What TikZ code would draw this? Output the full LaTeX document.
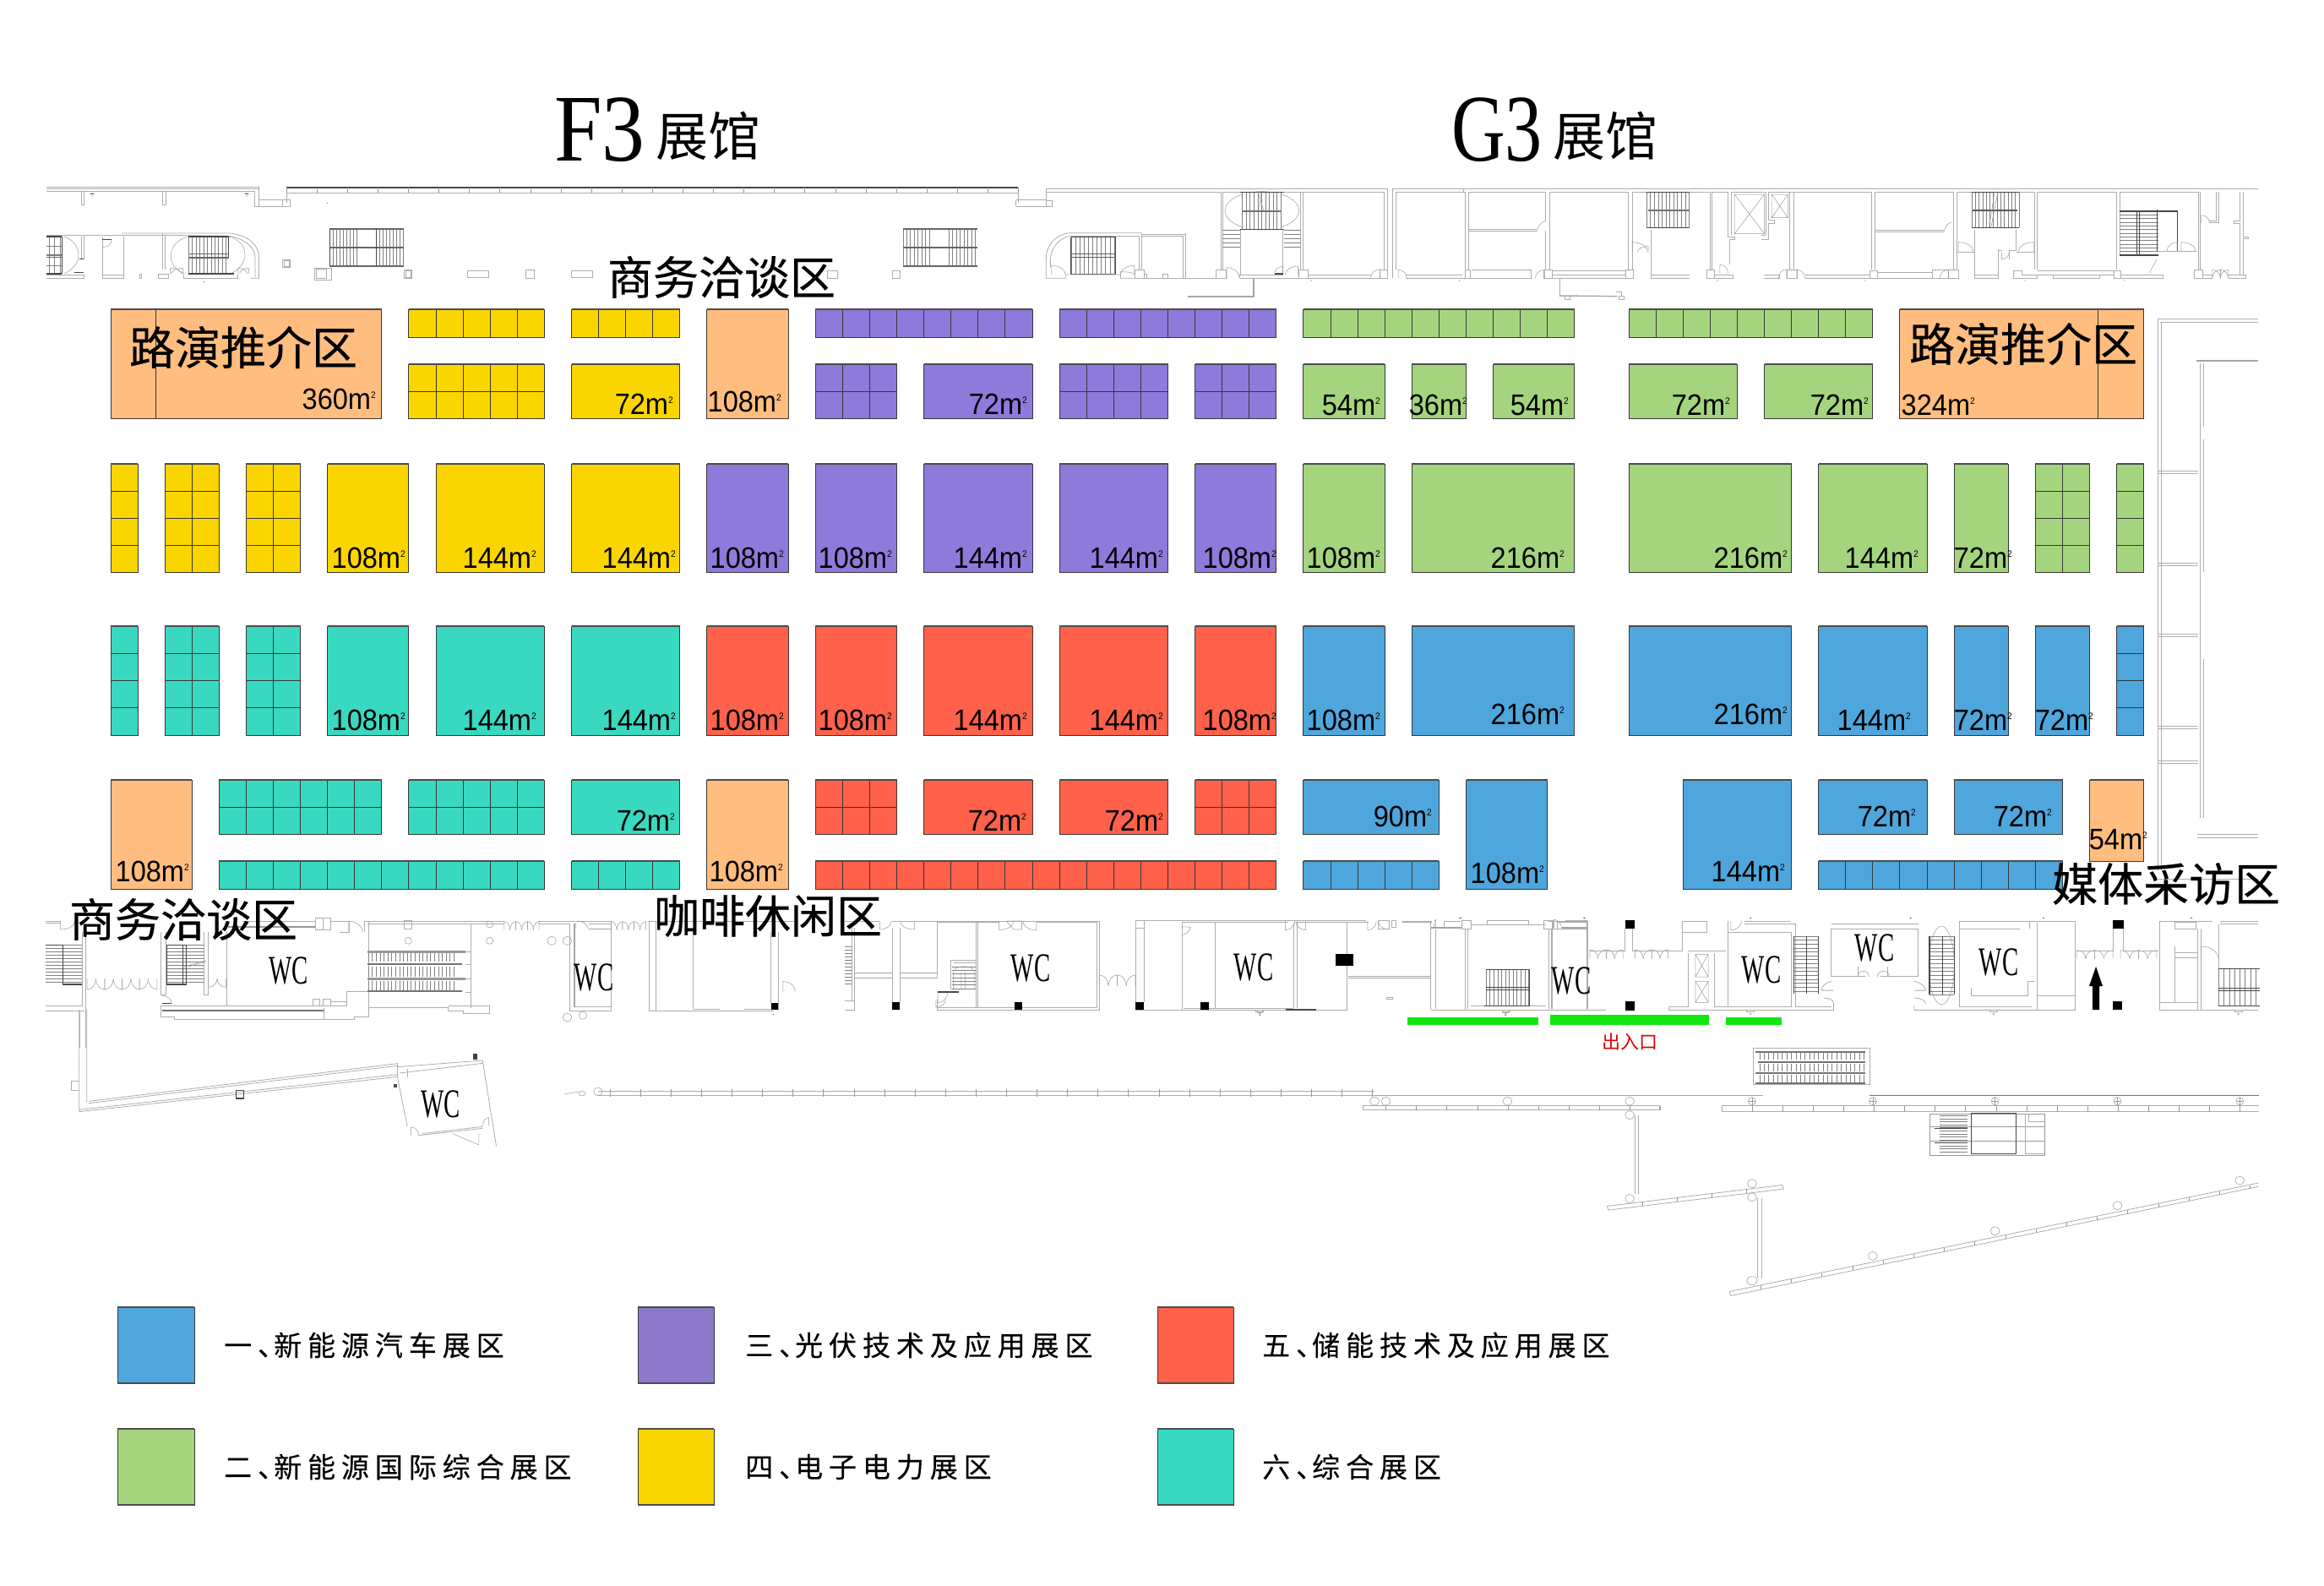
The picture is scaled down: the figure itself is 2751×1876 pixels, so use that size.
\documentclass[tikz,border=0pt]{standalone}
\usepackage{fontspec}
\setmainfont{Liberation Sans}
\newfontfamily\cjk{Noto Sans CJK SC}
\newfontfamily\zonef[FakeBold=0.35]{Noto Sans CJK SC}
\newfontfamily\legf[LetterSpace=21,FakeBold=0.25]{Noto Sans CJK SC}
\newfontfamily\labf[FakeStretch=0.93]{Liberation Sans}
\newfontfamily\wcf[FakeStretch=0.6]{Liberation Serif}
\newfontfamily\ttlf[FakeStretch=0.9]{Liberation Serif}
\newfontfamily\ttlg[FakeStretch=0.78]{Liberation Serif}
\definecolor{cblue}{HTML}{4EA6DC}
\definecolor{cpur}{HTML}{8E7ADB}
\definecolor{cpurl}{HTML}{8D79C9}
\definecolor{cora}{HTML}{FFBD7F}
\definecolor{cyel}{HTML}{FAD500}
\definecolor{cgrn}{HTML}{A4D57E}
\definecolor{ctea}{HTML}{38D9C0}
\definecolor{cred}{HTML}{FF614B}
\definecolor{cbar}{HTML}{10E810}
\tikzset{
 wall/.style={draw=black!32,line width=.8pt},
 thin wall/.style={draw=black!40,line width=.5pt},
 band/.style={draw=black!35,line width=2.2pt},
 dk/.style={draw=black!72,line width=1.1pt},
 hat/.style={draw=black!50,line width=.5pt},
 solid box/.style={fill=black,draw=none},
 boothline/.style={draw=black!78,line width=1pt},
 swatch/.style={draw=black!78,line width=1pt},
}
\newcounter{lb}
% booth: colour k0 k1 y0 y1 cols rows
\newcommand{\booth}[7]{%
 \fill[#1] (#2,#4) rectangle (#3,#5);
 \ifnum#6>1 \pgfmathtruncatemacro\nc{#6-1}\foreach \i in {1,...,\nc}{\draw[boothline] ({#2+(#3-#2)*\i/#6},#4)--({#2+(#3-#2)*\i/#6},#5);}\fi
 \ifnum#7>1 \pgfmathtruncatemacro\nr{#7-1}\foreach \i in {1,...,\nr}{\draw[boothline] (#2,{#4+(#5-#4)*\i/#7})--(#3,{#4+(#5-#4)*\i/#7});}\fi
 \draw[boothline] (#2,#4) rectangle (#3,#5);
 \draw[draw=black!70,line width=1.3pt] (#2,#4)--(#3,#4);
}
\newcommand{\lab}[3]{\stepcounter{lb}\node[anchor=base east,inner sep=0pt,text=black] (area\arabic{lb}) at (#1,#2) {\fontsize{35}{35}\labf #3m\raisebox{13pt}{\fontsize{11}{11}\selectfont 2}};}
\newcommand{\zonetxt}[3]{\stepcounter{lb}\node[inner sep=0pt,text=black] (zone\arabic{lb}) at (#1,#2) {\fontsize{54}{54}\zonef #3};}
\newcommand{\wc}[2]{\stepcounter{lb}\node[inner sep=0pt,text=black] (wc\arabic{lb}) at (#1,#2) {\fontsize{48}{48}\wcf WC};}
\newcommand{\vhatch}[5]{\pgfmathtruncatemacro\nn{(#2-#1)/#5}\foreach \i in {0,...,\nn}{\draw[hat] ({#1+\i*#5},#3)--({#1+\i*#5},#4);}}
\newcommand{\hhatch}[5]{\pgfmathtruncatemacro\nn{(#4-#3)/#5}\foreach \i in {0,...,\nn}{\draw[hat] (#1,{#3+\i*#5})--(#2,{#3+\i*#5});}}
% door leaf: hinge (x,y), width w (signed), height h (signed, up if positive)
\newcommand{\leaf}[4]{\draw[thin wall] ({#1},#2)--({#1},{#2-(#4)}) .. controls ({#1+.6*(#3)},{#2-(#4)}) and ({#1+(#3)},{#2-.5*(#4)}) .. ({#1+(#3)},#2);}
\newcommand{\scalrow}[5]{\foreach \i in {1,...,#5}{\leaf{#1+(\i-1)*2*#3}{#2}{#3}{#4}\leaf{#1+\i*2*#3}{#2}{-#3}{#4}}}
\newcommand{\ovl}[4]{\draw[thin wall] (#1,#2) ellipse [x radius=#3,y radius=#4];}
\newcommand{\pin}[2]{\fill[black!70] (#1,#2) circle [radius=1.5pt];}
\newcommand{\dun}{、\hspace{-14pt}}
\begin{document}
\begin{tikzpicture}[x=1pt,y=-1pt]
\useasboundingbox (0,0) rectangle (2751,1876);
\fill[white] (0,0) rectangle (2751,1876);

%%%%% PLAN: upper-left (zoom coordinates)
\begin{scope}[shift={(40,200)},xscale=.4464,yscale=.3333]
 \draw[wall] (34,65)--(597,65)--(597,133)--(680,133)--(680,110)--(597,110);
 \draw[wall] (34,70)--(597,70);
 \draw[wall] (34,80)--(585,80)--(585,133)--(597,133);
 \draw[wall] (127,80)--(127,128)--(133,128)--(133,80) (342,80)--(342,128)--(350,128)--(350,80) (660,110)--(660,133);
 \pin{155}{96}\pin{565}{96}\pin{778}{121}\pin{451}{400}
 \fill[black!60] (150,86) rectangle (160,90) (560,86) rectangle (570,90);
 % stair block
 \vhatch{785}{860}{212}{346}{9}\vhatch{908}{982}{212}{346}{9}
 \draw[band,draw=black!60] (785,212)--(982,212) (785,279)--(982,279) (785,346)--(982,346);
 \draw[dk] (785,212)--(785,346) (908,212)--(908,346);
 % small pillars
 \draw[wall] (660,322) rectangle (680,349) (665,325) rectangle (678,346);
 \draw[wall] (745,352) rectangle (790,395) (750,355) rectangle (775,388);
 \draw[wall] (982,358) rectangle (1003,388) (987,362) rectangle (1000,384);
 \draw[wall] (1150,361) rectangle (1206,386) (1305,358) rectangle (1327,388) (1426,361) rectangle (1482,386);
 % left stair
 \vhatch{40}{75}{240}{372}{15}\hhatch{34}{75}{240}{372}{34}
 \draw[dk] (34,240)--(75,240) (34,372)--(75,372) (75,240)--(75,372);
 \draw[band,draw=black!55,line width=1.6pt] (34,304)--(75,304) (34,314)--(75,314);
 \draw[thin wall] (80,240) .. controls (128,262) and (135,340) .. (80,372);
 \draw[wall] (34,235)--(342,235) (127,240)--(127,320) (133,235)--(133,322);
 \draw[dk] (122,320)--(133,320) (108,367)--(133,367);
 \draw[wall] (34,375)--(133,375)--(133,388)--(34,388);
 \draw[wall] (182,240)--(182,388)--(238,388)--(238,240) (182,375)--(238,375);
 \draw[dk] (182,250)--(207,250);
 \draw[thin wall] (207,250) .. controls (207,265) and (197,278) .. (182,278);
 \draw[wall] (282,372) rectangle (286,388);
 \draw[wall] (233,228)--(520,228) .. controls (570,236) and (597,270) .. (597,312)--(597,388)--(575,388);
 \draw[wall] (342,235)--(520,238) .. controls (562,250) and (587,280) .. (587,315)--(587,385);
 \draw[wall] (342,228)--(342,358) (348,238)--(348,358);
 \draw[wall] (330,372) rectangle (358,388);
 \draw[thin wall] (410,240) .. controls (350,260) and (350,350) .. (400,372);
 \draw[thin wall] (517,240) .. controls (575,262) and (572,340) .. (522,372);
 \vhatch{410}{517}{240}{372}{10}
 \draw[dk] (410,240)--(517,240)--(517,315) (410,372)--(530,372);
 \draw[band,draw=black!60,line width=1.6pt] (412,302)--(517,302) (412,315)--(517,315);
 \draw[wall] (397,375)--(397,388)--(540,388)--(540,375);
 \leaf{362}{372}{30}{20}\leaf{395}{372}{-30}{20}\leaf{542}{372}{24}{20}\leaf{570}{372}{-24}{20}
\end{scope}
%%%%% curtain wall
\draw[dk] (339,222)--(1205,222);
\draw[wall] (339,228)--(1205,228);
\draw[wall] (339,222)--(339,240) (1205,222)--(1205,240);
\foreach \i in {0,...,24}{\draw[thin wall] ({339+\i*36.1},222)--({339+\i*36.1},228);}
% second stair block + pillars (zoom 1 coords)
\begin{scope}[shift={(0,80)},xscale=.8929,yscale=.3333]
 \vhatch{1197}{1235}{572}{708}{5}\vhatch{1258}{1296}{572}{708}{5}
 \draw[band,draw=black!60] (1197,574)--(1296,574) (1197,640)--(1296,640) (1197,706)--(1296,706);
 \draw[wall] (1183,720) rectangle (1193,747) (1097,720) rectangle (1110,747);
\end{scope}
%%%%% PLAN: upper-middle
\begin{scope}[shift={(1200,210)},xscale=.5102,yscale=.3333]
 \draw[wall] (5,80)--(75,80) (5,102)--(75,102) (5,80)--(5,102);
 \draw[wall] (75,82) rectangle (88,102);
 \draw[wall] (75,80)--(75,40)--(868,40)--(868,358)--(850,358)--(850,328)--(868,328);
 \draw[wall] (75,52)--(480,52)--(480,328) (484,52)--(484,328) (484,52)--(860,52)--(860,328);
 \draw[wall] (665,52)--(665,328) (672,52)--(672,328);
 \draw[wall] (878,40)--(1568,40) (878,40)--(878,358) (886,52)--(1048,52)--(1048,328) (886,52)--(886,328) (1043,40)--(1043,52);
 \draw[wall] (1055,52)--(1234,52)--(1234,155) (1055,52)--(1055,328) (1234,190)--(1234,328) (1244,52)--(1244,328) (1244,52)--(1425,52)--(1425,328) (1435,52)--(1435,328) (1435,52)--(1568,52);
 \draw[wall] (1055,185)--(1215,185) (1055,190)--(1215,190);
 \draw[thin wall] (1215,185) .. controls (1218,170) and (1225,157) .. (1234,155);
 % central stair
 \draw[thin wall] (576,118) ellipse [x radius=86,y radius=68];
 \fill[white] (530,52) rectangle (622,185);
 \vhatch{530}{625}{52}{185}{9}
 \draw[dk] (525,52)--(628,52) (525,185)--(628,185);
 \draw[band,draw=black!55] (530,119)--(620,119);
 \draw[thin wall] (566,48)--(580,118) (574,52)--(570,110);
 \hhatch{484}{527}{188}{262}{15}\hhatch{628}{667}{188}{262}{15}
 \draw[wall] (527,190)--(527,345)--(625,345)--(625,190) (525,358)--(628,358) (525,345)--(525,358);
 % left stair
 \vhatch{133}{236}{212}{343}{10}
 \draw[dk] (133,212)--(236,212)--(236,343)--(133,343)--(133,212);
 \draw[band,draw=black!60,line width=1.6pt] (133,272)--(236,272) (133,284)--(236,284);
 \draw[wall] (297,197)--(130,197) .. controls (95,205) and (75,240) .. (75,290)--(75,358)--(120,358)--(120,345)--(248,345)--(248,358)--(282,358);
 \draw[wall] (130,208) .. controls (105,215) and (87,250) .. (85,290)--(85,320);
 \draw[wall] (297,197)--(297,328) (290,208)--(290,328) (130,208)--(290,208);
 \draw[wall] (297,202)--(398,202)--(398,358) (297,208)--(392,208)--(392,358);
 \draw[wall] (282,328) rectangle (303,358) (303,343) rectangle (308,358) (345,343) rectangle (357,358);
 \draw[wall] (308,358)--(470,358) (470,328) rectangle (492,358);
 \leaf{88}{345}{32}{32}\leaf{280}{345}{-32}{32}\leaf{248}{345}{32}{10}
 \leaf{494}{358}{30}{38}\leaf{660}{345}{-30}{30}\leaf{625}{340}{-20}{24}
 \draw[dk] (605,342)--(625,342);
 \draw[wall] (625,358)--(662,358) (662,328) rectangle (683,358);
 \draw[wall] (683,345)--(830,345) (683,358)--(850,358);
 \leaf{850}{358}{-22}{32}\leaf{892}{358}{20}{30}
 \draw[wall] (910,345)--(1040,345) (910,358)--(1048,358) (1048,328)--(1060,328)--(1060,358)--(1048,358)--(1048,328);
 \draw[wall] (1062,328)--(1200,328)--(1200,358)--(1060,358);
 \leaf{1232}{358}{-22}{30}
 \draw[wall] (1230,328) rectangle (1250,358) (1250,332)--(1420,332) (1250,345)--(1420,345) (1250,358)--(1438,358)--(1438,328)--(1420,328)--(1420,358);
 \pin{690}{366}\pin{1034}{366}
 % tails
 \draw[band,line width=1.4pt] (557,358)--(557,423)--(403,423);
 \draw[wall] (1266,358)--(1266,420)--(1282,420);
 \draw[band,line width=1.4pt] (1266,420)--(1400,422);
 \draw[wall] (1397,405)--(1410,405)--(1410,424) (1278,422) rectangle (1290,433) (1404,422) rectangle (1416,433);
 % next stair
 \vhatch{1468}{1568}{52}{178}{9}
 \draw[dk] (1468,52)--(1568,52) (1468,178)--(1568,178);
 \draw[band,draw=black!55] (1472,116)--(1568,116);
 \draw[wall] (1478,185)--(1478,345)--(1568,345) (1478,345)--(1478,358)--(1568,358);
 \leaf{1435}{265}{36}{35}\leaf{1472}{265}{-25}{20}
\end{scope}
%%%%% PLAN: upper-right
\begin{scope}[shift={(2000,210)},xscale=.4789,yscale=.3333]
 \draw[wall] (0,40)--(1405,40);
 \draw[wall] (0,52)--(50,52)--(50,328) (55,52)--(55,328) (55,52)--(95,52)--(95,210)--(112,210)--(112,220)--(99,220)--(99,310) (103,52)--(103,205);
 \draw[wall] (103,52)--(188,52)--(188,205) (195,52)--(195,150)--(210,150)--(210,162)--(195,162)--(195,220)--(178,220) (188,205)--(178,205);
 \draw[thin wall] (111,60) rectangle (185,200) (111,60)--(185,200) (185,60)--(111,200);
 \draw[thin wall] (203,60) rectangle (243,143) (203,60)--(243,143) (243,60)--(203,143);
 \draw[wall] (195,52)--(450,52)--(450,328) (248,52)--(248,328) (258,52)--(258,328) (458,52)--(458,328);
 \draw[wall] (458,52)--(653,52)--(653,328) (660,52)--(660,328) (660,52)--(853,52)--(853,328) (860,52)--(860,328);
 \draw[wall] (458,187)--(630,187) (458,192)--(630,192);
 \draw[thin wall] (630,187) .. controls (632,172) and (640,160) .. (648,160);
 \vhatch{697}{815}{52}{178}{9}
 \draw[dk] (697,52)--(815,52) (697,178)--(815,178);
 \draw[band,draw=black!65] (700,116)--(810,116);
 \draw[thin wall] (762,52)--(745,178) (754,52)--(740,178);
 \draw[wall] (705,185)--(705,358)--(762,358)--(762,260)--(772,260) (705,345)--(762,345);
 \draw[wall] (807,185)--(807,260)--(790,260)--(790,290);
 \draw[wall] (660,265)--(705,265) (807,265)--(853,265);
 \leaf{664}{265}{38}{35}\leaf{850}{265}{-38}{35}\leaf{772}{265}{18}{-25}
 \draw[wall] (860,52)--(1055,52)--(1055,328) (1063,52)--(1063,280) (1063,52)--(1258,52)--(1258,328) (1263,52)--(1263,328);
 \hhatch{1063}{1158}{120}{278}{13}
 \draw[dk] (1063,120)--(1205,120)--(1205,262) (1105,120)--(1105,275) (1112,120)--(1112,275) (1063,276)--(1158,276) (1155,115)--(1155,262);
 \draw[wall] (1158,262)--(1252,262);
 \leaf{1205}{262}{-25}{32}\leaf{1215}{262}{36}{32}
 \draw[thin wall] (1155,290) .. controls (1150,310) and (1140,320) .. (1138,340);
 \draw[wall] (42,328) rectangle (62,358) (62,345)--(107,345)--(107,358)--(62,358);
 \draw[wall] (183,345)--(222,345)--(222,358)--(183,358);
 \draw[wall] (240,328) rectangle (265,358) (285,345)--(445,345) (285,358)--(445,358);
 \leaf{240}{358}{-20}{32}\leaf{265}{358}{20}{30}\leaf{75}{340}{20}{30}
 \draw[wall] (445,330) rectangle (465,358) (465,338)--(600,338) (465,358)--(600,358) (600,328) rectangle (665,358) (640,328)--(640,358);
 \leaf{640}{358}{-22}{30}
 \draw[wall] (800,330)--(822,330)--(822,345)--(860,345) (800,330)--(800,358)--(860,358)--(860,345);
 \draw[wall] (860,332)--(1048,332) (860,345)--(1048,345) (898,345)--(898,358)--(1013,358)--(1013,345);
 \draw[wall] (1048,330) rectangle (1065,358) (1065,345)--(1170,345)--(1170,358)--(1065,358);
 \draw[wall] (1248,328) rectangle (1268,358) (1268,345)--(1292,345) (1268,358)--(1292,358);
 \draw[wall] (1332,345)--(1375,345)--(1375,358)--(1332,358);
 \leaf{1292}{358}{20}{30}\leaf{1332}{358}{-20}{30}\leaf{1312}{358}{-20}{30}\leaf{1312}{358}{20}{30}
 \draw[wall] (1302,52)--(1302,155)--(1285,155) (1308,52)--(1308,160)--(1285,160);
 \leaf{1265}{162}{20}{28}
 \draw[wall] (1360,52)--(1360,155)--(1345,155)--(1345,162)--(1360,162)--(1360,345) (1368,52)--(1368,210)--(1380,210)--(1380,218)--(1368,218)--(1368,345);
 \pin{69}{366}\pin{434}{366}\pin{829}{366}\pin{1075}{366}
\end{scope}
%%%%% right wing
\draw[wall] (2554,377)--(2673,377) (2557,381)--(2673,381) (2554,377)--(2554,1030) (2558,381)--(2558,1030);
\draw[wall] (2604,430)--(2604,968) (2608,430)--(2608,505) (2608,520)--(2608,677) (2608,780)--(2608,968);
\draw[band,line width=1.6pt] (2600,427)--(2673,427);
\foreach \yy in {557,666,750,859,900}{\draw[wall] (2555,\yy)--(2602,\yy) (2555,{\yy+3})--(2602,{\yy+3});}
\draw[wall] (2601,987)--(2673,987) (2601,991)--(2673,991) (2555,1040)--(2673,1040);

%%%%% PLAN: lower-left (zoom 11)
\begin{scope}[shift={(40,1070)},xscale=.5741,yscale=.3333]
 \draw[wall] (25,60)--(55,60) (430,60)--(580,60) (612,60)--(650,60)--(650,100)--(630,100) (25,66)--(55,66);
 \draw[band,draw=black!40] (400,82)--(580,82);
 \draw[wall] (580,50) rectangle (612,92) (596,50)--(596,92);
 \leaf{55}{60}{30}{-30}
 \hhatch{25}{100}{145}{285}{12}
 \draw[dk] (25,145)--(60,145)--(60,285)--(100,285);
 \draw[wall] (100,100)--(100,362) (107,100)--(107,510) (95,378)--(95,510) (25,362)--(100,362) (25,378)--(105,378);
 \scalrow{110}{265}{18}{-38}{4}
 \hhatch{275}{350}{145}{285}{12}
 \draw[dk] (275,145)--(315,145)--(315,285) (275,145)--(275,285)--(315,285) (308,145)--(308,285);
 \draw[wall] (262,100)--(262,322)--(272,322)--(272,100) (350,100)--(350,322)--(360,322)--(360,100) (397,95)--(397,362);
 \draw[thin wall] (310,222)--(355,200) (310,226)--(355,204);
 \scalrow{360}{265}{18}{-30}{1}
 \draw[dk] (264,352)--(284,352);
 \draw[thin wall] (265,325) .. controls (278,328) and (285,340) .. (284,352);
 \draw[wall] (262,362)--(645,362) (262,362)--(262,400)--(290,400)--(290,408)--(660,408)--(660,400)--(690,400)--(690,60);
 \draw[band,draw=black!55] (264,378)--(598,378);
 \draw[wall] (598,368)--(598,408);
 \draw[wall] (575,338) rectangle (590,362) (596,338) rectangle (612,362) (612,345)--(645,345) (645,310)--(690,310) (645,310)--(645,362);
 \draw[wall] (682,60)--(682,100) (682,60)--(970,60) (1040,60)--(1115,60) (688,70)--(970,70) (1040,70)--(1105,70);
 \leaf{648}{100}{30}{40}
 \draw[wall] (763,58) rectangle (780,88);
 \ovl{772}{130}{7}{12}\ovl{940}{130}{7}{12}\ovl{940}{72}{7}{12}\ovl{1068}{130}{9}{15}\ovl{1100}{130}{9}{15}\ovl{1100}{402}{9}{15}\ovl{1132}{395}{8}{14}
 \scalrow{970}{92}{12}{30}{3}
 \foreach \yy in {168,265}{\draw[band,draw=black!40,line width=3pt] (688,\yy)--(890,\yy);}
 \foreach \yy in {213,310}{\draw[band,draw=black!55,line width=1.8pt] (688,\yy)--(883,\yy);}
 \vhatch{690}{870}{175}{205}{8}\vhatch{690}{870}{222}{258}{8}\vhatch{690}{870}{272}{305}{8}
 \draw[wall] (890,168)--(902,168) (890,215)--(902,215) (890,265)--(902,265) (890,312)--(902,312);
 \draw[wall] (902,70)--(902,368) (690,368)--(855,368) (855,362)--(940,362)--(940,388)--(885,388)--(885,378)--(855,378)--(855,362);
 \draw[wall] (1105,70)--(1105,378)--(1190,378)--(1190,60) (1120,60)--(1190,60) (1145,70)--(1190,70) (1115,365)--(1190,365);
 \draw[band,line width=1.4pt] (1115,70)--(1115,365);
 \draw[band,line width=1.4pt] (1145,88)--(1190,88);
 \leaf{1118}{88}{25}{28}
 \scalrow{1190}{92}{12}{30}{3}
 \draw[wall] (1268,60)--(1268,378)--(1525,378) (1282,60)--(1282,378) (1360,100)--(1360,372) (1360,372)--(1415,372) (1465,372)--(1520,372) (1268,60)--(1568,60);
 \draw[wall] (1520,100)--(1520,350) (1535,100)--(1535,378);
 \fill[black] (1520,350) rectangle (1535,375);
 \pin{1525}{392}
 \leaf{1545}{310}{25}{35}
\end{scope}
%%%%% PLAN: lower-middle (zoom 12)
\begin{scope}[shift={(1000,1070)},xscale=.5741,yscale=.3333]
 \hhatch{0}{14}{150}{282}{12}
 \draw[wall] (0,375)--(20,375)--(20,85) (0,342)--(20,342) (14,85)--(14,342);
 \draw[band,line width=1.4pt] (20,245)--(98,245) (20,262)--(98,262) (114,245)--(190,245) (114,262)--(190,262);
 \draw[wall] (98,85)--(98,348) (114,85)--(114,348) (98,60)--(114,60);
 \fill[black] (98,348) rectangle (114,375);
 \leaf{72}{60}{24}{-30}\leaf{144}{60}{-30}{-30}
 \draw[wall] (0,60)--(72,60) (114,60)--(525,60) (190,65)--(318,65) (190,65)--(190,265) (190,340)--(190,375)--(525,375)--(525,60);
 \draw[wall] (270,65)--(270,368) (275,65)--(275,368) (190,368)--(520,368)--(520,65)--(395,65) ;
 \fill[black] (350,348) rectangle (365,375);
 \leaf{318}{60}{30}{-32}\leaf{395}{60}{-28}{-32}
 \draw[wall] (333,60)--(365,60)--(365,90)--(348,90)--(333,60);
 \draw[wall] (218,200)--(270,200) (218,200)--(218,300)--(270,300) (224,207)--(270,207);
 \hhatch{222}{270}{222}{300}{13}
 \draw[thin wall] (224,300)--(224,240) .. controls (228,215) and (262,215) .. (268,240)--(268,300) (240,240)--(240,300) (248,240)--(248,300);
 \leaf{192}{312}{20}{-38}\leaf{188}{340}{20}{-25}
 \draw[dk] (192,312)--(235,312);
 \scalrow{525}{290}{18.5}{38}{2}
 \draw[wall] (600,58)--(600,375)--(1035,375)--(1035,65) (617,58)--(617,348) (600,58)--(618,58) (600,85)--(617,85);
 \fill[black] (600,348) rectangle (617,375);
 \draw[wall] (617,58)--(1075,58) (695,65)--(695,112) (695,65)--(915,65) (695,112)--(695,375) (763,65)--(763,370) (700,370)--(925,370);
 \draw[thin wall] (695,80)--(713,82) .. controls (712,95) and (703,108) .. (695,110);
 \fill[black] (733,348) rectangle (750,375);
 \draw[wall] (925,65)--(925,370) (932,65)--(932,370) (932,65)--(1080,65) ;
 \leaf{908}{60}{20}{-32}\leaf{950}{60}{-20}{-32}
 \fill[black] (1012,178) rectangle (1048,220);
 \draw[band,line width=1pt] (1038,255)--(1208,255) (1038,262)--(1208,262);
 \draw[dk] (910,375)--(972,375);
 \pin{856}{394}
 \draw[wall] (850,376) rectangle (862,384) (1118,330) rectangle (1130,336);
 \leaf{1078}{60}{18}{-32}\leaf{1122}{60}{-22}{-30}
 \draw[wall] (1100,58)--(1122,58)--(1122,88)--(1100,88)--(1100,58) (1127,58) rectangle (1137,82);
 \draw[wall] (1150,60)--(1210,60) (1150,65)--(1210,65) (1208,60)--(1208,375) (1218,90)--(1218,372) (1208,375)--(1285,375) (1280,90)--(1280,375) (1285,90)--(1285,372) (1285,375)--(1570,375) (1452,90)--(1452,372) (1457,90)--(1457,372) (1290,362)--(1445,362);
 \draw[wall] (1272,58) rectangle (1292,88) (1442,58) rectangle (1460,88);
 \draw[wall] (1325,58)--(1410,58)--(1410,72) (1325,58)--(1325,72) (1292,72)--(1445,72) (1235,60)--(1270,60) (1235,60)--(1235,84);
 \draw[band,line width=2pt] (1208,85)--(1272,85) (1478,85)--(1530,85);
 \draw[wall] (1485,58)--(1530,58)--(1530,84);
 \leaf{1218}{85}{-3}{30}\leaf{1462}{85}{16}{30}
 \pin{1268}{50}\pin{1525}{50}\pin{1362}{394}
 \draw[wall] (1355,376) rectangle (1368,384);
 \vhatch{1322}{1412}{232}{362}{8}
 \draw[dk] (1322,232)--(1412,232)--(1412,362)--(1318,362) (1322,295)--(1412,295) (1322,305)--(1412,305);
 \draw[wall] (1530,85)--(1530,375);
\end{scope}
%%%%% PLAN: lower-right (zoom 4)
\begin{scope}[shift={(1350,1040)},xscale=.8937,yscale=.3571]
 \draw[wall] (540,140)--(592,140)--(592,430) (592,165)--(545,165) (545,140)--(545,430);
 \draw[wall] (552,145) rectangle (592,165);
 \scalrow{595}{265}{11}{30}{2}\scalrow{655}{265}{11}{30}{2}
 \fill[black] (642,138) rectangle (654,165);
 \draw[wall] (642,165)--(642,240)--(595,240) (652,165)--(652,240)--(700,240);
 \fill[black] (642,405) rectangle (654,437);
 \draw[wall] (700,240)--(718,240)--(718,140)--(750,140)--(750,178)--(718,178) ;
 \draw[wall] (725,245)--(725,425) (760,245)--(760,425) (700,425)--(725,425) (700,425)--(700,435)--(918,435)--(918,410) (725,240)--(775,240);
 \draw[thin wall] (735,250) rectangle (752,325) (735,250)--(752,325) (752,250)--(735,325) (735,340) rectangle (752,410) (735,340)--(752,410) (752,340)--(735,410);
 \draw[wall] (760,425)--(778,425) (778,140)--(778,425) (778,178)--(862,178)--(862,425)--(778,425) (868,150)--(868,425)--(915,425);
 \draw[wall] (800,150)--(868,150) (800,140)--(860,140);
 \leaf{782}{140}{14}{-30}
 \hhatch{865}{898}{190}{382}{13}
 \draw[dk] (865,190)--(865,382) (882,190)--(882,382) (898,190)--(898,382);
 \draw[wall] (915,340) .. controls (905,345) and (903,360) .. (902,370)--(918,370) (905,395) .. controls (910,395) and (918,400) .. (918,412);
 \draw[wall] (915,150)--(1030,150) (915,165)--(1030,165) (915,165)--(915,322)--(960,322) (980,322)--(1030,322)--(1030,165) (950,322)--(950,290) (990,322)--(990,290);
 \draw[thin wall] (950,325) .. controls (950,300) and (965,300) .. (965,325) (976,325) .. controls (976,300) and (992,300) .. (992,325);
 \draw[thin wall] (1061,287) ellipse [x radius=17,y radius=130];
 \hhatch{1045}{1078}{190}{385}{13}
 \draw[dk] (1045,190)--(1045,385) (1062,190)--(1062,385) (1078,190)--(1078,385);
 \draw[wall] (1025,370)--(1040,370) (1025,420)--(1025,435)--(1188,435) (1025,340) .. controls (1035,345) and (1040,360) .. (1040,370) (1025,395) .. controls (1035,395) and (1040,405) .. (1040,415);
 \draw[wall] (1085,140)--(1238,140) (1085,165)--(1165,165) (1085,140)--(1085,425)--(1180,425) (1178,140)--(1178,165);
 \draw[wall] (1100,360)--(1100,388)--(1175,388)--(1175,340)--(1185,340) (1188,145)--(1188,435) (1238,140)--(1238,435)--(1188,435) (1188,388)--(1238,388);
 \scalrow{1240}{265}{12}{28}{2}\scalrow{1298}{265}{12}{28}{2}
 \fill[black] (1288,138) rectangle (1302,165);
 \draw[wall] (1288,165)--(1288,240)--(1240,240) (1302,165)--(1302,240)--(1348,240);
 \fill[black] (1288,405) rectangle (1300,435);
 \draw[wall] (1350,140)--(1350,435)--(1400,435) (1350,410)--(1400,410) (1370,225)--(1370,410) (1370,245)--(1400,245) (1370,262)--(1400,262) (1400,165)--(1400,435) (1405,165)--(1405,435);
 \draw[wall] (1370,145) rectangle (1398,165) (1350,140)--(1420,140);
 \draw[wall] (1430,140)--(1480,140) (1430,150)--(1480,150) (1428,150)--(1428,300);
 \leaf{1405}{262}{22}{38}
 \vhatch{1428}{1480}{300}{422}{7}
 \draw[dk,line width=1.6pt] (1428,298)--(1482,298);
 \draw[dk] (1428,362)--(1482,362) (1428,372)--(1482,372) (1428,422)--(1482,422);
 \draw[wall] (1400,435)--(1480,435);
 \foreach \p in {158,484,808,1130,1454}{\pin{\p}{448}\draw[wall] ({\p-5},436) rectangle ({\p+5},441);}
 \foreach \p in {424,588,808,1020,1196,1392}{\pin{\p}{130}}
 % entry stair
 \draw[wall] (812,562) rectangle (966,682);
 \vhatch{820}{960}{578}{600}{6}\vhatch{820}{960}{612}{638}{6}\vhatch{820}{960}{650}{675}{6}
 \draw[band,draw=black!55] (815,575)--(960,575) (818,608)--(960,608) (815,645)--(960,645) (815,678)--(960,678);
 % corridor
 \draw[band,line width=1.4pt] (310,718)--(825,718);
 \draw[band,draw=black!55,line width=1.4pt] (966,718)--(1481,718);
 \draw[wall] (295,752)--(688,752)--(688,766)--(295,766)--cycle;
 \foreach \i in {0,...,9}{\draw[thin wall] ({325+\i*40.4},752)--({325+\i*40.4},766);}
 \draw[wall] (770,752)--(1481,752) (770,772)--(1481,772) (770,752)--(770,772);
 \foreach \i in {0,...,16}{\draw[thin wall] ({810+\i*40.4},752)--({810+\i*40.4},772);}
 \foreach \p in {310,325,486,648}{\ovl{\p}{737}{6}{14}}
 \foreach \p in {810,970,1132,1294,1456}{\ovl{\p}{737}{5}{13}\draw[thin wall] ({\p-4},737)--({\p+4},737);\draw[thin wall] (\p,724)--(\p,750);}
 \ovl{648}{783}{6}{14}
 \draw[wall] (655,785)--(655,1045) (660,785)--(660,1045);
 \ovl{648}{1060}{6}{14}
 \draw[wall] (618,1085)--(850,1015)--(852,1028)--(620,1098)--cycle;
 \foreach \i in {1,...,4}{\draw[thin wall] ({619+\i*46},{1085-\i*14})--({619+\i*46},{1098-\i*14});}
 \ovl{810}{1010}{6}{14}\ovl{810}{1055}{6}{14}
 \draw[wall] (817,1058)--(817,1325) (823,1058)--(823,1325);
 \ovl{810}{1332}{7}{14}
 \draw[wall] (780,1368)--(1481,1008) (782,1382)--(1481,1020) (780,1368)--(782,1382);
 \foreach \i in {1,...,17}{\draw[thin wall] ({781+\i*40.5},{1369-\i*20.8})--({781+\i*40.5},{1381-\i*20.8});}
 \ovl{970}{1250}{6}{14}\ovl{1132}{1167}{6}{14}\ovl{1294}{1083}{6}{14}\ovl{1456}{1000}{6}{14}
 % stair building
 \draw[thin wall] (1045,778) rectangle (1197,915) (1045,822)--(1197,822) (1045,870)--(1197,870);
 \hhatch{1058}{1095}{785}{910}{10}
 \draw[dk] (1100,778)--(1160,778)--(1160,912)--(1100,912)--(1100,778) (1052,828)--(1095,828) (1052,876)--(1095,876);
 \draw[wall] (1172,778)--(1172,910)--(1197,910) (1176,782)--(1176,805)--(1197,805);
\end{scope}
%%%%% corridor strip
\draw[wall] (708,1291)--(1627,1291) (708,1296)--(1627,1296);
\foreach \i in {0,...,25}{\draw[thin wall] ({722+\i*36.1},1289)--({722+\i*36.1},1298);}
\draw[thin wall] (708,1292) ellipse [x radius=5,y radius=5];
\draw[thin wall] (689,1294) ellipse [x radius=4,y radius=3];
\draw[thin wall] (668,1295)--(685,1292);
%%%%% PLAN: lower-left wing (zoom 3)
\begin{scope}[shift={(0,1040)},xscale=.8929,yscale=.3333]
 \draw[wall] (105,465)--(105,825)--(108,827) (115,465)--(115,795);
 \draw[wall] (118,790)--(527,656) (118,797)--(527,664);
 \draw[wall] (105,820)--(527,695) (105,827)--(527,703);
 \draw[wall] (95,718)--(105,718) (95,752)--(105,752) (95,718)--(95,752);
 \draw[wall] (527,655)--(527,705) (527,668)--(640,645) (530,690)--(640,655) (640,645)--(640,655);
 \draw[wall] (540,675)--(540,705);
 \draw[wall] (527,705)--(540,880) (640,650)--(658,950);
 \draw[wall] (560,905)--(640,880) (556,911)--(640,886) ;
 \leaf{545}{912}{10}{30}\leaf{648}{876}{-8}{28}
 \draw[thin wall] (600,905)--(635,945) (635,905)--(635,940);
 \fill[black!75] (627,622) rectangle (633,642);
 \draw[dk] (313,752) rectangle (323,780);
 \fill[black!70] (522,730) rectangle (526,742);
\end{scope}

%%%%% BOOTHS
\begin{scope}[xshift=131pt,x=32.09pt]
 % row A
 \fill[cora] (0,366) rectangle (10,495);
 \draw[boothline] (1.68,366)--(1.68,495) (0,366) rectangle (10,495);
 \draw[draw=black!70,line width=1.3pt] (0,366)--(10,366);
 \booth{cyel}{11}{16}{366}{399}{5}{1}
 \booth{cyel}{17}{21}{366}{399}{4}{1}
 \booth{cora}{22}{25}{366}{495}{1}{1}
 \booth{cpur}{26}{34}{366}{399}{8}{1}
 \booth{cpur}{35}{43}{366}{399}{8}{1}
 \booth{cgrn}{44}{54}{366}{399}{10}{1}
 \booth{cgrn}{56}{65}{366}{399}{9}{1}
 \fill[cora] (66,366) rectangle (75,495);
 \draw[boothline] (73.3,366)--(73.3,495) (66,366) rectangle (75,495);
 \draw[draw=black!70,line width=1.3pt] (66,366)--(75,366);
 % row B
 \booth{cyel}{11}{16}{431}{495}{5}{2}
 \booth{cyel}{17}{21}{431}{495}{1}{1}
 \booth{cpur}{26}{29}{431}{495}{3}{2}
 \booth{cpur}{30}{34}{431}{495}{1}{1}
 \booth{cpur}{35}{39}{431}{495}{4}{2}
 \booth{cpur}{40}{43}{431}{495}{3}{2}
 \booth{cgrn}{44}{47}{431}{495}{1}{1}
 \booth{cgrn}{48}{50}{431}{495}{1}{1}
 \booth{cgrn}{51}{54}{431}{495}{1}{1}
 \booth{cgrn}{56}{60}{431}{495}{1}{1}
 \booth{cgrn}{61}{65}{431}{495}{1}{1}
 % row C
 \booth{cyel}{0}{1}{549}{677}{1}{4}
 \booth{cyel}{2}{4}{549}{677}{2}{4}
 \booth{cyel}{5}{7}{549}{677}{2}{4}
 \booth{cyel}{8}{11}{549}{677}{1}{1}
 \booth{cyel}{12}{16}{549}{677}{1}{1}
 \booth{cyel}{17}{21}{549}{677}{1}{1}
 \booth{cpur}{22}{25}{549}{677}{1}{1}
 \booth{cpur}{26}{29}{549}{677}{1}{1}
 \booth{cpur}{30}{34}{549}{677}{1}{1}
 \booth{cpur}{35}{39}{549}{677}{1}{1}
 \booth{cpur}{40}{43}{549}{677}{1}{1}
 \booth{cgrn}{44}{47}{549}{677}{1}{1}
 \booth{cgrn}{48}{54}{549}{677}{1}{1}
 \booth{cgrn}{56}{62}{549}{677}{1}{1}
 \booth{cgrn}{63}{67}{549}{677}{1}{1}
 \booth{cgrn}{68}{70}{549}{677}{1}{1}
 \booth{cgrn}{71}{73}{549}{677}{2}{4}
 \booth{cgrn}{74}{75}{549}{677}{1}{4}
 % row D
 \booth{ctea}{0}{1}{741}{870}{1}{4}
 \booth{ctea}{2}{4}{741}{870}{2}{4}
 \booth{ctea}{5}{7}{741}{870}{2}{4}
 \booth{ctea}{8}{11}{741}{870}{1}{1}
 \booth{ctea}{12}{16}{741}{870}{1}{1}
 \booth{ctea}{17}{21}{741}{870}{1}{1}
 \booth{cred}{22}{25}{741}{870}{1}{1}
 \booth{cred}{26}{29}{741}{870}{1}{1}
 \booth{cred}{30}{34}{741}{870}{1}{1}
 \booth{cred}{35}{39}{741}{870}{1}{1}
 \booth{cred}{40}{43}{741}{870}{1}{1}
 \booth{cblue}{44}{47}{741}{870}{1}{1}
 \booth{cblue}{48}{54}{741}{870}{1}{1}
 \booth{cblue}{56}{62}{741}{870}{1}{1}
 \booth{cblue}{63}{67}{741}{870}{1}{1}
 \booth{cblue}{68}{70}{741}{870}{1}{1}
 \booth{cblue}{71}{73}{741}{870}{1}{1}
 \booth{cblue}{74}{75}{741}{870}{1}{4}
 % row E
 \booth{cora}{0}{3}{923}{1052}{1}{1}
 \booth{ctea}{4}{10}{923}{987}{6}{2}
 \booth{ctea}{11}{16}{923}{987}{5}{2}
 \booth{ctea}{17}{21}{923}{987}{1}{1}
 \booth{cora}{22}{25}{923}{1052}{1}{1}
 \booth{cred}{26}{29}{923}{987}{3}{2}
 \booth{cred}{30}{34}{923}{987}{1}{1}
 \booth{cred}{35}{39}{923}{987}{1}{1}
 \booth{cred}{40}{43}{923}{987}{3}{2}
 \booth{cblue}{44}{49}{923}{987}{1}{1}
 \booth{cblue}{50}{53}{923}{1052}{1}{1}
 \booth{cblue}{58}{62}{923}{1052}{1}{1}
 \booth{cblue}{63}{67}{923}{987}{1}{1}
 \booth{cblue}{68}{72}{923}{987}{1}{1}
 \booth{cora}{73}{75}{923}{1019}{1}{1}
 % row F
 \booth{ctea}{4}{16}{1019}{1052}{12}{1}
 \booth{ctea}{17}{21}{1019}{1052}{4}{1}
 \booth{cred}{26}{43}{1019}{1052}{17}{1}
 \booth{cblue}{44}{49}{1019}{1052}{5}{1}
 \booth{cblue}{63}{72}{1019}{1052}{9}{1}
\end{scope}

%%%%% AREA LABELS
\lab{445}{484}{360}\lab{797}{490}{72}\lab{925}{487}{108}\lab{1216}{490}{72}
\lab{1634}{491}{54}\lab{1737}{491}{36}\lab{1857}{491}{54}\lab{2048}{491}{72}\lab{2212}{491}{72}\lab{2338}{491}{324}
\lab{480}{672}{108}\lab{635}{672}{144}\lab{800}{672}{144}\lab{928}{672}{108}\lab{1056}{672}{108}\lab{1216}{672}{144}\lab{1377}{672}{144}\lab{1511}{672}{108}
\lab{1634}{672}{108}\lab{1852}{672}{216}\lab{2116}{672}{216}\lab{2271}{672}{144}\lab{2382}{672}{72}
\lab{480}{864}{108}\lab{635}{864}{144}\lab{800}{864}{144}\lab{928}{864}{108}\lab{1056}{864}{108}\lab{1216}{864}{144}\lab{1377}{864}{144}\lab{1511}{864}{108}
\lab{1634}{864}{108}\lab{1852}{857}{216}\lab{2116}{857}{216}\lab{2262}{864}{144}\lab{2382}{864}{72}\lab{2478}{864}{72}
\lab{799}{983}{72}\lab{1215}{983}{72}\lab{1377}{983}{72}
\lab{224}{1043}{108}\lab{927}{1043}{108}
\lab{1695}{978}{90}\lab{1828}{1045}{108}\lab{2113}{1043}{144}\lab{2268}{978}{72}\lab{2429}{978}{72}\lab{2542}{1005}{54}

%%%%% ZONE LABELS
\zonetxt{288}{411}{路演推介区}
\zonetxt{2395}{407}{路演推介区}
\zonetxt{854}{328}{商务洽谈区}
\zonetxt{217}{1088}{商务洽谈区}
\zonetxt{909}{1084}{咖啡休闲区}
\zonetxt{2564}{1046}{媒体采访区}

%%%%% TITLES
\node[anchor=base west,inner sep=0pt] (titleF) at (656,190) {\fontsize{113}{113}\ttlf F3};
\node[inner sep=0pt] (titleFb) at (838,161) {\fontsize{62}{62}\cjk 展馆};
\node[anchor=base west,inner sep=0pt] (titleG) at (1718,190) {\fontsize{113}{113}\ttlg G3};
\node[inner sep=0pt] (titleGb) at (1900,161) {\fontsize{62}{62}\cjk 展馆};

%%%%% WC
\wc{342}{1149}\wc{703}{1157}\wc{1220}{1146}\wc{522}{1307}\wc{1484}{1145}\wc{1860}{1161}\wc{2085}{1148}\wc{2219}{1122}\wc{2366}{1139}

%%%%% ENTRANCE
\fill[cbar] (1666,1204) rectangle (1821,1213);
\fill[cbar] (1835,1201) rectangle (2023,1213);
\fill[cbar] (2043,1204) rectangle (2109,1213);
\node[inner sep=0pt,text=red!85!black] (entry) at (1929,1233) {\fontsize{22}{22}\cjk 出入口};
\fill[black] (2477,1195)--(2477,1167)--(2473,1167)--(2481,1144)--(2489,1167)--(2485,1167)--(2485,1195)--cycle;

%%%%% LEGEND
\foreach \xa/\xb/\ya/\yb/\col in {139/230/1547/1637/cblue,755/845/1547/1637/cpurl,1370/1460/1547/1637/cred,139/230/1691/1781/cgrn,755/845/1691/1781/cyel,1370/1460/1691/1781/ctea}{
 \fill[\col] (\xa,\ya) rectangle (\xb,\yb);
 \draw[swatch] (\xa,\ya) rectangle (\xb,\yb);
 \draw[draw=black!70,line width=1.5pt] (\xa,\ya)--(\xb,\ya) (\xa,\yb)--(\xb,\yb);
}
\node[anchor=west,inner sep=0pt] (leg1) at (265,1592) {\fontsize{33}{33}\legf 一\dun 新能源汽车展区};
\node[anchor=west,inner sep=0pt] (leg3) at (882,1592) {\fontsize{33}{33}\legf 三\dun 光伏技术及应用展区};
\node[anchor=west,inner sep=0pt] (leg5) at (1494,1592) {\fontsize{33}{33}\legf 五\dun 储能技术及应用展区};
\node[anchor=west,inner sep=0pt] (leg2) at (265,1736) {\fontsize{33}{33}\legf 二\dun 新能源国际综合展区};
\node[anchor=west,inner sep=0pt] (leg4) at (882,1736) {\fontsize{33}{33}\legf 四\dun 电子电力展区};
\node[anchor=west,inner sep=0pt] (leg6) at (1494,1736) {\fontsize{33}{33}\legf 六\dun 综合展区};
\end{tikzpicture}
\end{document}
